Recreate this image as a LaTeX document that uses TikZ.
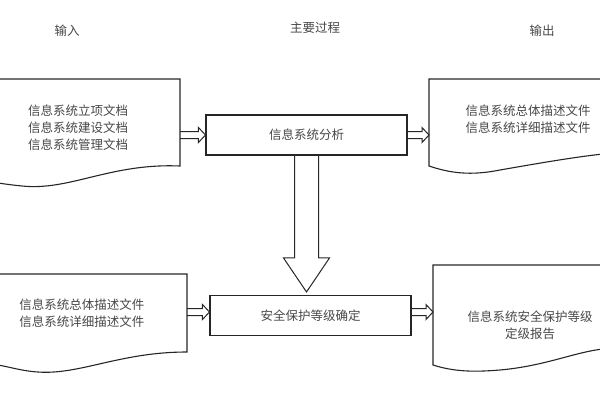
\documentclass[tikz,border=0pt]{standalone}
\usepackage{fontspec}
\setmainfont{Noto Sans CJK SC}
\usepackage{tikz}
\usetikzlibrary{calc}

% hollow arrows: horizontal from #1 to #2, and downward from #1 to #2
\newcommand{\hollowright}[2]{%
  \draw[fatline] ($(#1)+(0,3.5)$) -- ($(#2)+(-7,3.5)$) -- ($(#2)+(-7,7.5)$) -- (#2) -- ($(#2)+(-7,-7.5)$) -- ($(#2)+(-7,-3.5)$) -- ($(#1)+(0,-3.5)$);}
\newcommand{\hollowdown}[2]{%
  \draw[fatline] ($(#1)+(-12,0)$) -- ($(#2)+(-12,-34)$) -- ($(#2)+(-23,-34)$) -- (#2) -- ($(#2)+(23,-34)$) -- ($(#2)+(12,-34)$) -- ($(#1)+(12,0)$);}

\begin{document}
\begin{tikzpicture}[x=1pt,y=-1pt,
  txt/.style={text=black!72,font=\fontsize{12.5}{17}\selectfont,align=center,inner sep=0pt},
  docline/.style={line width=1.1pt,black!85},
  procbox/.style={draw=black!85,line width=1.1pt,minimum width=201pt,minimum height=40pt,txt},
  fatline/.style={line width=1pt,black!85}]
\useasboundingbox (0,0) rectangle (600,400);

\node[txt] (hin) at (67,31) {输入};
\node[txt] (hproc) at (315,28) {主要过程};
\node[txt] (hout) at (542,31) {输出};

\draw[docline] (-2,79) -- (180,79) -- (180,166) .. controls (110,163) and (70,191) .. (22,186) .. controls (12,185) and (5,184) .. (-2,183);
\draw[docline] (603,79) -- (429,79) -- (429,166) .. controls (450,173) and (470,176) .. (500,170) .. controls (540,163) and (575,157) .. (603,154);
\draw[docline] (-2,274) -- (187,274) -- (187,352) .. controls (120,352) and (80,375) .. (38,372) .. controls (22,371) and (10,367) .. (-2,365);
\draw[docline] (603,265) -- (433,265) -- (433,365) .. controls (455,372) and (475,372) .. (500,370) .. controls (545,366) and (575,352) .. (603,349);

\node[txt] (in1) at (78,128) {信息系统立项文档\\信息系统建设文档\\信息系统管理文档};
\node[txt] (out1) at (528,119) {信息系统总体描述文件\\信息系统详细描述文件};
\node[txt] (in2) at (82,313) {信息系统总体描述文件\\信息系统详细描述文件};
\node[txt] (out2) at (530,325) {信息系统安全保护等级\\定级报告};

\node[procbox] (analyse) at (306.5,135) {信息系统分析};
\node[procbox] (grade) at (310.5,315.5) {安全保护等级确定};

\coordinate (in1edge) at (180,135);
\coordinate (out1edge) at (429,135);
\coordinate (in2edge) at (187,312);
\coordinate (out2edge) at (433,312);

\hollowright{in1edge}{analyse.west}
\hollowright{analyse.east}{out1edge}
\hollowright{in2edge}{grade.west |- in2edge}
\hollowright{grade.east |- out2edge}{out2edge}
\hollowdown{analyse.south}{$(analyse.south |- grade.north)+(0,-3)$}
\end{tikzpicture}
\end{document}
